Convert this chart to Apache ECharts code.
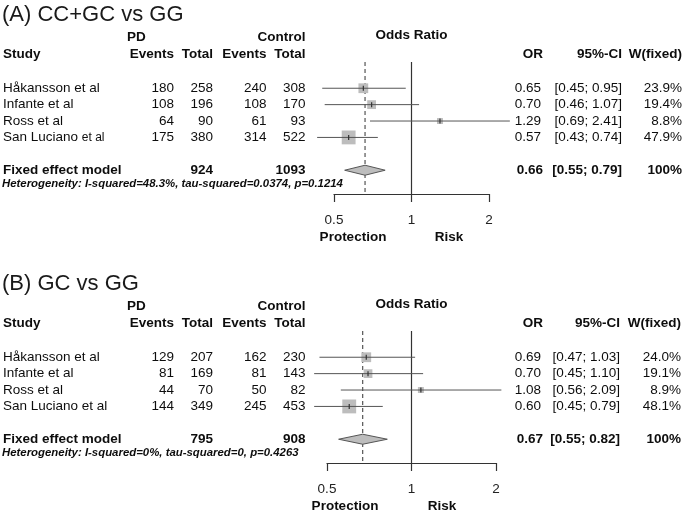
<!DOCTYPE html>
<html>
<head>
<meta charset="utf-8">
<script src="https://cdn.jsdelivr.net/npm/echarts@6/dist/echarts.min.js"></script>
<style>
html,body{margin:0;padding:0;background:#fff;}
#chart{width:685px;height:513px;}
</style>
</head>
<body>
<div id="chart"></div>
<script>
// ---------- DATA ----------
const studies = ['Håkansson et al', 'Infante et al', 'Ross et al', 'San Luciano et al'];
const xTicks = [0.5, 1, 2];

// Panel A: CC+GC vs GG
const titleA = '(A) CC+GC vs GG';
const pdEventsA = [180, 108, 64, 175];
const pdTotalA = [258, 196, 90, 380];
const ctlEventsA = [240, 108, 61, 314];
const ctlTotalA = [308, 170, 93, 522];
const orA = [0.65, 0.70, 1.29, 0.57];
const loA = [0.45, 0.46, 0.69, 0.43];
const hiA = [0.95, 1.07, 2.41, 0.74];
const wA = [23.9, 19.4, 8.8, 47.9];
const pooledA = [0.66, 0.55, 0.79];      // OR, lower, upper
const pooledTotalsA = [924, 1093];        // PD total, Control total
const hetA = 'Heterogeneity: I-squared=48.3%, tau-squared=0.0374, p=0.1214';

// Panel B: GC vs GG
const titleB = '(B) GC vs GG';
const pdEventsB = [129, 81, 44, 144];
const pdTotalB = [207, 169, 70, 349];
const ctlEventsB = [162, 81, 50, 245];
const ctlTotalB = [230, 143, 82, 453];
const orB = [0.69, 0.70, 1.08, 0.60];
const loB = [0.47, 0.45, 0.56, 0.45];
const hiB = [1.03, 1.10, 2.09, 0.79];
const wB = [24.0, 19.1, 8.9, 48.1];
const pooledB = [0.67, 0.55, 0.82];
const pooledTotalsB = [795, 908];
const hetB = 'Heterogeneity: I-squared=0%, tau-squared=0, p=0.4263';

// ---------- LAYOUT ----------
const FONT = '"Liberation Sans", Arial, Helvetica, sans-serif';
const FS = 13.5;
const ROW_MIN = -1.6, ROW_MAX = 6.45;
const FIXED_ROW = 5;
const panels = [
  {title: titleA, pdE: pdEventsA, pdT: pdTotalA, cE: ctlEventsA, cT: ctlTotalA, or: orA, lo: loA, hi: hiA, w: wA,
   pooled: pooledA, totals: pooledTotalsA, het: hetA,
   grid: {left: 334, top: 62, width: 155, height: 132}, ciX: 622, wX: 682, protX: 353, riskX: 449, smallEtAlRow: 3},
  {title: titleB, pdE: pdEventsB, pdT: pdTotalB, cE: ctlEventsB, cT: ctlTotalB, or: orB, lo: loB, hi: hiB, w: wB,
   pooled: pooledB, totals: pooledTotalsB, het: hetB,
   grid: {left: 327, top: 331, width: 169, height: 132}, ciX: 620, wX: 681, protX: 345, riskX: 442, smallEtAlRow: -1}
];
const COL = {study: 3, pdE: 174, pdT: 213, cE: 266.5, cT: 305.5, pdHead: 127, or: 541};

function fmt2(v) { return v.toFixed(2); }
function ci(lo, hi) { return '[' + fmt2(lo) + '; ' + fmt2(hi) + ']'; }

function buildTexts(p) {
  const t = [];
  const add = (row, x, text, opts) => t.push(Object.assign({row, x, text}, opts || {}));
  add(-4.5, 2, p.title, {size: 22, weight: 'normal', align: 'left', color: '#1a1a1a'});
  add(-3.1, COL.pdHead, 'PD', {weight: 'bold', align: 'left'});
  add(-3.1, COL.cT, 'Control', {weight: 'bold', align: 'right'});
  add(-3.2, null, 'Odds Ratio', {weight: 'bold', align: 'center', xv: 1});
  add(-2.1, COL.study, 'Study', {weight: 'bold', align: 'left'});
  add(-2.1, COL.pdE, 'Events', {weight: 'bold', align: 'right'});
  add(-2.1, COL.pdT, 'Total', {weight: 'bold', align: 'right'});
  add(-2.1, COL.cE, 'Events', {weight: 'bold', align: 'right'});
  add(-2.1, COL.cT, 'Total', {weight: 'bold', align: 'right'});
  add(-2.1, COL.or + 2, 'OR', {weight: 'bold', align: 'right'});
  add(-2.1, p.ciX, '95%-CI', {weight: 'bold', align: 'right'});
  add(-2.1, p.wX, 'W(fixed)', {weight: 'bold', align: 'right'});
  studies.forEach((s, i) => {
    if (i === p.smallEtAlRow && s.endsWith(' et al')) {
      add(i, COL.study, s.replace(/ et al$/, ' {s|et al}'), {align: 'left', rich: {s: {fontSize: 12, fontFamily: FONT, fill: '#0d0d0d'}}});
    } else {
      add(i, COL.study, s, {align: 'left'});
    }
    add(i, COL.pdE, String(p.pdE[i]), {align: 'right'});
    add(i, COL.pdT, String(p.pdT[i]), {align: 'right'});
    add(i, COL.cE, String(p.cE[i]), {align: 'right'});
    add(i, COL.cT, String(p.cT[i]), {align: 'right'});
    add(i, COL.or, fmt2(p.or[i]), {align: 'right'});
    add(i, p.ciX, ci(p.lo[i], p.hi[i]), {align: 'right'});
    add(i, p.wX, p.w[i].toFixed(1) + '%', {align: 'right'});
  });
  add(FIXED_ROW, COL.study, 'Fixed effect model', {weight: 'bold', align: 'left'});
  add(FIXED_ROW, COL.pdT, String(p.totals[0]), {weight: 'bold', align: 'right'});
  add(FIXED_ROW, COL.cT, String(p.totals[1]), {weight: 'bold', align: 'right'});
  add(FIXED_ROW, COL.or + 2, fmt2(p.pooled[0]), {weight: 'bold', align: 'right'});
  add(FIXED_ROW, p.ciX, ci(p.pooled[1], p.pooled[2]), {weight: 'bold', align: 'right'});
  add(FIXED_ROW, p.wX, '100%', {weight: 'bold', align: 'right'});
  add(5.85, 2, p.het, {size: 11.4, weight: 'bold', style: 'italic', align: 'left'});
  add(9.1, p.protX, 'Protection', {weight: 'bold', align: 'center'});
  add(9.1, p.riskX, 'Risk', {weight: 'bold', align: 'center'});
  return t;
}

const grids = [], xAxes = [], yAxes = [], series = [];
panels.forEach((p, k) => {
  grids.push(Object.assign({containLabel: false}, p.grid));
  xAxes.push({
    type: 'log', logBase: 2, gridIndex: k, min: xTicks[0], max: xTicks[xTicks.length - 1],
    splitNumber: xTicks.length - 1, position: 'bottom',
    axisLine: {show: true, onZero: false, lineStyle: {color: '#333', width: 1.2}},
    axisTick: {show: true, inside: false, length: 8, lineStyle: {color: '#333', width: 1.2}},
    axisLabel: {show: true, margin: 19, color: '#222', fontSize: FS, fontFamily: FONT,
      formatter: v => String(+v.toFixed(2))},
    splitLine: {show: false}, minorTick: {show: false}
  });
  yAxes.push({type: 'value', gridIndex: k, inverse: true, min: ROW_MIN, max: ROW_MAX, show: false,
    axisLine: {onZero: false}});

  // Reference lines: null effect (solid) and pooled estimate (dashed)
  series.push({
    type: 'custom', xAxisIndex: k, yAxisIndex: k, clip: false, silent: true, z: 1,
    encode: {x: 0, y: 1},
    data: [[1, 0], [p.pooled[0], 0]],
    renderItem: (params, api) => {
      const xv = api.value(0);
      const top = api.coord([xv, ROW_MIN]);
      const bot = api.coord([xv, ROW_MAX]);
      const dashed = params.dataIndex === 1;
      return {type: 'line', shape: {x1: top[0], y1: top[1], x2: bot[0], y2: bot[1]},
        style: {stroke: dashed ? '#555' : '#333', lineWidth: 1.2, lineDash: dashed ? [4, 3] : null}};
    }
  });

  // Study estimates
  series.push({
    type: 'custom', xAxisIndex: k, yAxisIndex: k, clip: false, silent: true, z: 3,
    encode: {x: 0, y: 1},
    data: p.or.map((v, i) => [v, i, p.lo[i], p.hi[i], p.w[i]]),
    renderItem: (params, api) => {
      const row = api.value(1);
      const c = api.coord([api.value(0), row]);
      const l = api.coord([api.value(2), row]);
      const h = api.coord([api.value(3), row]);
      const s = 2 * Math.sqrt(api.value(4));
      return {type: 'group', children: [
        {type: 'rect', shape: {x: c[0] - s / 2, y: c[1] - s / 2, width: s, height: s}, style: {fill: '#bdbdbd'}},
        {type: 'line', shape: {x1: l[0], y1: c[1], x2: h[0], y2: c[1]}, style: {stroke: '#555', lineWidth: 1}},
        {type: 'line', shape: {x1: c[0], y1: c[1] - 2.5, x2: c[0], y2: c[1] + 2.5}, style: {stroke: '#333', lineWidth: 1.2}}
      ]};
    }
  });

  // Pooled diamond
  series.push({
    type: 'custom', xAxisIndex: k, yAxisIndex: k, clip: false, silent: true, z: 3,
    encode: {x: 0, y: 1},
    data: [[p.pooled[0], FIXED_ROW, p.pooled[1], p.pooled[2]]],
    renderItem: (params, api) => {
      const row = api.value(1);
      const c = api.coord([api.value(0), row]);
      const l = api.coord([api.value(2), row]);
      const h = api.coord([api.value(3), row]);
      const hh = 5;
      return {type: 'polygon', shape: {points: [[l[0], c[1]], [c[0], c[1] - hh], [h[0], c[1]], [c[0], c[1] + hh]]},
        style: {fill: '#bdbdbd', stroke: '#555', lineWidth: 1}};
    }
  });

  // Table texts
  const texts = buildTexts(p);
  series.push({
    type: 'custom', xAxisIndex: k, yAxisIndex: k, clip: false, silent: true, z: 5,
    encode: {x: 0, y: 1},
    data: texts.map(t => [1, t.row]),
    renderItem: (params, api) => {
      const t = texts[params.dataIndex];
      const pos = api.coord([t.xv != null ? t.xv : 1, t.row]);
      const x = t.xv != null ? pos[0] : t.x;
      const st = {
        text: t.text, x: x, y: pos[1],
        fill: t.color || '#0d0d0d',
        fontSize: t.size || FS, fontFamily: FONT,
        fontWeight: t.weight || 'normal', fontStyle: t.style || 'normal',
        align: t.align, verticalAlign: 'middle',
        textAlign: t.align, textVerticalAlign: 'middle'
      };
      if (t.rich) st.rich = t.rich;
      return {type: 'text', style: st};
    }
  });
});

const chart = echarts.init(document.getElementById('chart'), null, {renderer: 'canvas'});
chart.setOption({
  animation: false,
  backgroundColor: '#fff',
  grid: grids, xAxis: xAxes, yAxis: yAxes, series: series
});
</script>
</body>
</html>
